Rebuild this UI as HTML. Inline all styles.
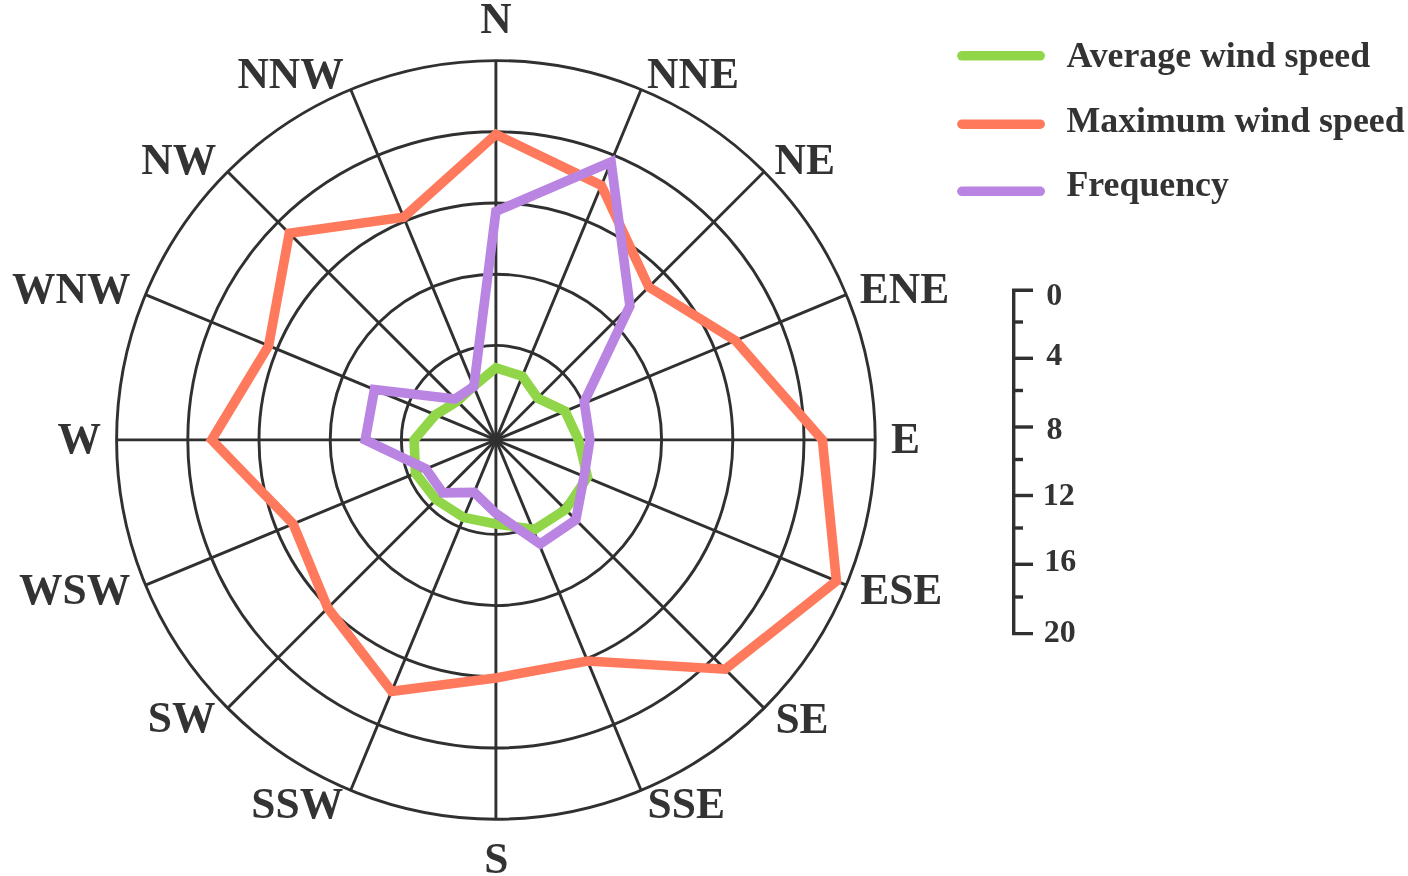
<!DOCTYPE html>
<html lang="en"><head><meta charset="utf-8"><title>Wind rose radar chart</title>
<style>
html,body{margin:0;padding:0;background:#fff;}
body{width:1408px;height:876px;overflow:hidden;}
svg{display:block;}
</style></head><body>
<svg width="1408" height="876" viewBox="0 0 1408 876">
<rect width="1408" height="876" fill="#ffffff"/>
<g fill="none" stroke="#303030" stroke-width="2.9">
<circle cx="495.9" cy="439.9" r="94.5"/>
<circle cx="495.9" cy="439.9" r="165.7"/>
<circle cx="495.9" cy="439.9" r="236.9"/>
<circle cx="495.9" cy="439.9" r="308.1"/>
<circle cx="495.9" cy="439.9" r="379.3"/>
<line x1="495.9" y1="439.9" x2="495.9" y2="60.6"/>
<line x1="495.9" y1="439.9" x2="641.1" y2="89.5"/>
<line x1="495.9" y1="439.9" x2="764.1" y2="171.7"/>
<line x1="495.9" y1="439.9" x2="846.3" y2="294.7"/>
<line x1="495.9" y1="439.9" x2="875.2" y2="439.9"/>
<line x1="495.9" y1="439.9" x2="846.3" y2="585.1"/>
<line x1="495.9" y1="439.9" x2="764.1" y2="708.1"/>
<line x1="495.9" y1="439.9" x2="641.1" y2="790.3"/>
<line x1="495.9" y1="439.9" x2="495.9" y2="819.2"/>
<line x1="495.9" y1="439.9" x2="350.7" y2="790.3"/>
<line x1="495.9" y1="439.9" x2="227.7" y2="708.1"/>
<line x1="495.9" y1="439.9" x2="145.5" y2="585.1"/>
<line x1="495.9" y1="439.9" x2="116.6" y2="439.9"/>
<line x1="495.9" y1="439.9" x2="145.5" y2="294.7"/>
<line x1="495.9" y1="439.9" x2="227.7" y2="171.7"/>
<line x1="495.9" y1="439.9" x2="350.7" y2="89.5"/>
</g>
<g fill="none" stroke-width="9.6" stroke-linejoin="miter" stroke-miterlimit="10">
<polygon stroke="#90D648" points="495.9,367.9 522.3,376.2 537.7,398.1 565.1,411.2 578.5,439.9 587.5,477.0 565.6,509.6 534.7,529.4 495.9,523.9 463.8,517.5 436.1,499.7 415.5,473.2 414.1,439.9 435.4,414.8 457.3,401.3 473.7,386.3"/>
<polygon stroke="#FF7A5D" points="495.9,134.4 601.3,185.4 648.8,287.0 735.5,340.7 822.4,439.9 836.4,581.0 725.2,669.2 587.5,661.0 495.9,677.9 391.8,691.3 327.8,608.0 293.1,523.9 211.7,439.9 268.6,345.8 289.3,233.3 403.7,217.3"/>
<polygon stroke="#B984E2" points="495.9,211.4 611.1,161.8 629.9,305.9 584.2,401.9 589.9,439.9 584.1,476.4 575.8,519.8 540.2,544.0 495.9,513.4 474.2,492.4 442.9,492.9 425.9,468.9 365.2,439.9 374.4,389.6 455.1,399.1 473.8,386.5"/>
</g>
<g font-family="'Liberation Serif', 'Times New Roman', serif" font-weight="bold" font-size="43.5" fill="#333333" text-anchor="middle">
<text id="lb_N" x="496.0" y="32.7">N</text>
<text id="lb_NNE" x="693" y="88">NNE</text>
<text id="lb_NE" x="804.8" y="173.75">NE</text>
<text id="lb_ENE" x="904.6" y="302.5">ENE</text>
<text id="lb_E" x="905.4" y="452.5">E</text>
<text id="lb_ESE" x="901.25" y="603.5">ESE</text>
<text id="lb_SE" x="802" y="732.5">SE</text>
<text id="lb_SSE" x="686.25" y="818.3">SSE</text>
<text id="lb_S" x="496.3" y="873.2">S</text>
<text id="lb_SSW" x="297.3" y="818.3">SSW</text>
<text id="lb_SW" x="181.6" y="732.2">SW</text>
<text id="lb_WSW" x="74.6" y="603.5">WSW</text>
<text id="lb_W" x="79.2" y="452.5">W</text>
<text id="lb_WNW" x="71.25" y="302.5">WNW</text>
<text id="lb_NW" x="178.75" y="173.75">NW</text>
<text id="lb_NNW" x="290.6" y="88">NNW</text>
</g>
<g fill="none" stroke-width="9.5" stroke-linecap="round">
<line x1="961.9" y1="55.8" x2="1040.2" y2="55.8" stroke="#90D648"/>
<line x1="961.9" y1="124.2" x2="1040.2" y2="124.2" stroke="#FF7A5D"/>
<line x1="961.9" y1="191.3" x2="1040.2" y2="191.3" stroke="#B984E2"/>
</g>
<g font-family="'Liberation Serif', 'Times New Roman', serif" font-weight="bold" font-size="35.8" fill="#333333">
<text id="lg_a" x="1066.5" y="67.1">Average wind speed</text>
<text id="lg_m" x="1066.5" y="132.3">Maximum wind speed</text>
<text id="lg_f" x="1066.5" y="196.0">Frequency</text>
</g>
<g fill="none" stroke="#303030" stroke-width="3.4">
<path d="M1033,290.3 H1013.7 V633.6 H1033"/>
<line x1="1013.7" y1="358.3" x2="1033" y2="358.3"/>
<line x1="1013.7" y1="427" x2="1033" y2="427"/>
<line x1="1013.7" y1="495.5" x2="1033" y2="495.5"/>
<line x1="1013.7" y1="564.3" x2="1033" y2="564.3"/>
<line x1="1013.7" y1="322" x2="1023" y2="322"/>
<line x1="1013.7" y1="390.5" x2="1023" y2="390.5"/>
<line x1="1013.7" y1="459.5" x2="1023" y2="459.5"/>
<line x1="1013.7" y1="528" x2="1023" y2="528"/>
<line x1="1013.7" y1="597" x2="1023" y2="597"/>
</g>
<g font-family="'Liberation Serif', 'Times New Roman', serif" font-weight="bold" font-size="32" fill="#333333">
<text id="sc_0" x="1046.3" y="305.0">0</text>
<text id="sc_4" x="1046.2" y="365.0">4</text>
<text id="sc_8" x="1046.5" y="439.2">8</text>
<text id="sc_12" x="1042.8" y="504.8">12</text>
<text id="sc_16" x="1044.2" y="570.8">16</text>
<text id="sc_20" x="1043.8" y="642.4">20</text>
</g>
</svg>
</body></html>
